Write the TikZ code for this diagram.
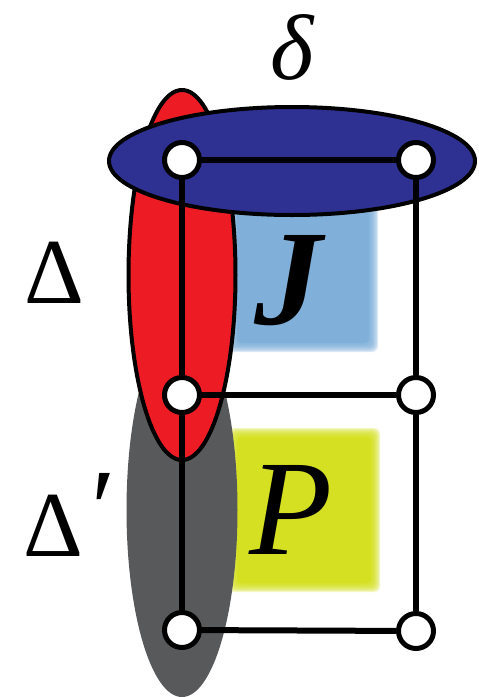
\documentclass[tikz,border=0pt]{standalone}
\usepackage{fontspec}
\setmainfont{Liberation Serif}
\usetikzlibrary{shapes.geometric}
\definecolor{dblue}{HTML}{2E3192}
\definecolor{dred}{HTML}{ED1C24}
\definecolor{dgray}{HTML}{58595B}
\definecolor{lblue}{HTML}{80B0DA}
\definecolor{lyel}{HTML}{D4E021}
\tikzset{
  vert/.style={circle, draw=black, fill=white, line width=5pt, minimum size=35pt, inner sep=0pt},
  gline/.style={line width=6pt},
  blob/.style={ellipse, inner sep=0pt},
  lbl/.style={inner sep=0pt, font=\fontsize{93}{93}\selectfont},
  big/.style={inner sep=0pt, font=\fontsize{136}{136}\selectfont},
}
\newcommand{\softbox}[5]{% color, x1, y1, x2, y2
  \foreach \k in {0,...,7}{
    \fill[#1, opacity=0.28, rounded corners=6pt] ({#2+\k*1.2},{#3+\k*1.2}) rectangle ({#4-\k*1.2},{#5-\k*1.2});
  }
  \fill[#1, rounded corners=4pt] ({#2+9},{#3+9}) rectangle ({#4-9},{#5-9});
}
\begin{document}
\begin{tikzpicture}[x=1pt, y=-1pt]
\useasboundingbox (0,0) rectangle (479,697);
% soft boxes
\softbox{lblue}{228}{200}{378}{352}
\softbox{lyel}{228}{428}{380}{592}
% ellipses
\node[blob, fill=dgray, minimum width=111pt, minimum height=374pt] (gr) at (182,510) {};
\node[blob, fill=dred, draw=black, line width=4pt, minimum width=107pt, minimum height=370pt] (rd) at (182,275) {};
\node[blob, fill=dblue, draw=black, line width=4pt, minimum width=366pt, minimum height=108pt] (bl) at (292,161) {};
% vertices
\node[vert] (a1) at (182,160) {};
\node[vert] (b1) at (416,160) {};
\node[vert] (a2) at (182,395) {};
\node[vert] (b2) at (416,395) {};
\node[vert] (a3) at (182,630) {};
\node[vert] (b3) at (416,631) {};
\draw[gline] (a1) -- (b1);
\draw[gline] (a2) -- (b2);
\draw[gline] (a3) -- (b3);
\draw[gline] (a1) -- (a2);
\draw[gline] (a2) -- (a3);
\draw[gline] (b1) -- (b2);
\draw[gline] (b2) -- (b3);
% labels
\node[big] (J) at (290,281) {\textbf{\textit{J}}};
\node[big] (P) at (291,510) {\textit{P}};
\node[lbl] (d) at (293,47) {\textit{δ}};
\node[lbl] (D) at (54,273) {Δ};
\node[lbl, anchor=base west] (Dp) at (23,556) {Δ\kern8pt\raisebox{10pt}{\scalebox{1.2}{′}}};
\end{tikzpicture}
\end{document}
